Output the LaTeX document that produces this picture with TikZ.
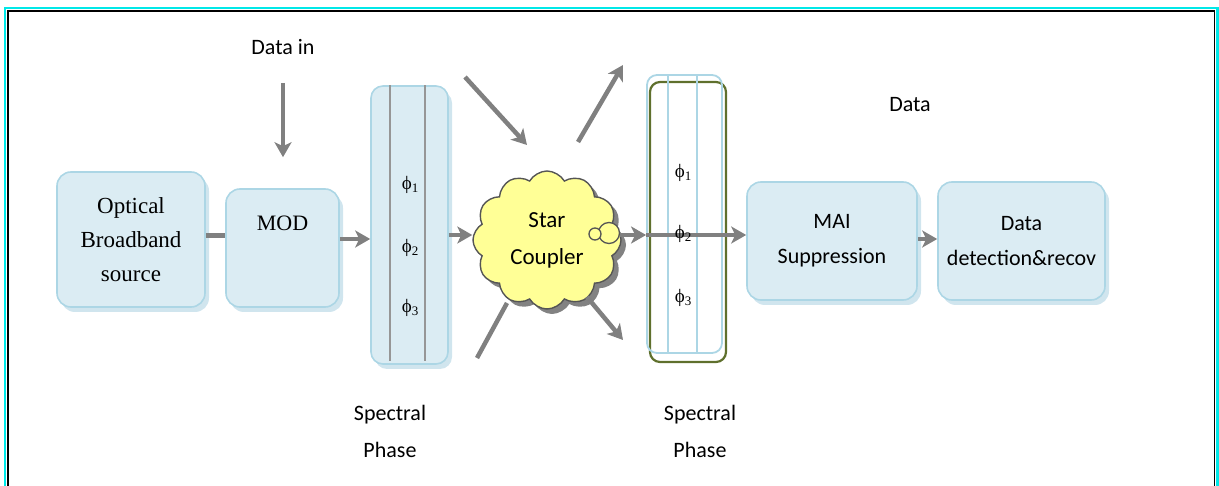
\documentclass[tikz,border=0pt]{standalone}
\usepackage{fontspec}
\setmainfont{Carlito}
\newfontfamily\serifface{Liberation Serif}
\usetikzlibrary{arrows.meta,shapes.symbols,shadows}

\definecolor{boxfill}{RGB}{219,236,243}
\definecolor{boxedge}{RGB}{172,214,229}
\definecolor{boxshade}{RGB}{208,229,238}
\definecolor{flowgray}{RGB}{128,128,128}
\definecolor{railgray}{RGB}{150,150,150}
\definecolor{cloudfill}{RGB}{255,255,150}
\definecolor{cloudedge}{RGB}{85,85,85}
\definecolor{cloudshade}{RGB}{130,130,130}
\definecolor{filtergreen}{RGB}{95,112,45}
\definecolor{framecyan}{RGB}{0,232,232}

\newcommand{\phaseterm}[1]{{\serifface ϕ}\raisebox{-2.5pt}{\serifface\fontsize{13}{13}\selectfont #1}}

\begin{document}
\begin{tikzpicture}[x=1pt,y=-1pt,
  blockbox/.style={draw=boxedge, line width=1.6pt, fill=boxfill,
    rounded corners=14pt, inner sep=0pt,
    drop shadow={shadow xshift=4pt, shadow yshift=-5pt, fill=boxshade, opacity=1}},
  sanslabel/.style={font=\fontsize{22}{35}\selectfont, align=center, inner sep=0pt},
  seriflabel/.style={font=\serifface\fontsize{23}{34}\selectfont, align=center},
  phaselabel/.style={font=\fontsize{19}{19}\selectfont, inner sep=0pt},
  flow/.style={draw=flowgray, line width=4.5pt,
    -{Stealth[length=15pt,width=17pt,inset=4pt]}},
  plainflow/.style={draw=flowgray, line width=4.5pt},
  rail/.style={draw=railgray, line width=2.2pt},
  thinrail/.style={draw=boxedge, line width=1.6pt},
  bubble/.style={circle, draw=cloudedge, line width=1.3pt, fill=cloudfill, inner sep=0pt}
]
\useasboundingbox (0,0) rectangle (1219,486);

% double frame
\draw[framecyan, line width=2.5pt] (5,492) -- (5,8) -- (1217.5,8) -- (1217.5,492);
\draw[black, line width=1.8pt] (8,492) -- (8,11) -- (1214.5,11) -- (1214.5,492);

% transmitter blocks
\node[blockbox, seriflabel, minimum width=148pt, minimum height=135pt]
  (src) at (131,239.5) {Optical\\Broadband\\source};
\node[blockbox, font=\serifface\fontsize{22}{22}\selectfont,
  minimum width=113pt, minimum height=118pt, text height=16pt, text depth=50pt]
  (mod) at (282.5,248) {MOD};
\node[sanslabel] (datain) at (283,47) {Data in};

% encoding phase mask
\node[blockbox, rounded corners=12pt, minimum width=77pt, minimum height=278pt]
  (ph1) at (409.5,225) {};
\draw[rail] ([xshift=-19.5pt]ph1.north) -- ([xshift=-19.5pt,yshift=4pt]ph1.south);
\draw[rail] ([xshift=15.5pt]ph1.north) -- ([xshift=15.5pt,yshift=4pt]ph1.south);
\node[phaselabel] (pa1) at (410,185) {\phaseterm{1}};
\node[phaselabel] (pa2) at (410,248) {\phaseterm{2}};
\node[phaselabel] (pa3) at (410,308) {\phaseterm{3}};
\node[sanslabel, font=\fontsize{22}{37}\selectfont] (sp1) at (390,431) {Spectral\\Phase};

% star coupler
\node[cloud, cloud puffs=12, cloud puff arc=120, draw=cloudedge, line width=1.4pt,
  fill=cloudfill, minimum width=148pt, minimum height=138pt, inner sep=0pt,
  align=center, font=\fontsize{23}{37}\selectfont,
  drop shadow={shadow xshift=5pt, shadow yshift=-5pt, fill=cloudshade, opacity=1}]
  (cloud) at (547,240) {Star\\Coupler};
\node[bubble, minimum size=21pt] (bubB) at (609,233) {};
\node[bubble, minimum size=12pt] (bubA) at (595,234) {};

% decoding phase mask
\node[draw=filtergreen, line width=2.2pt, rounded corners=10pt,
  minimum width=76pt, minimum height=280pt, inner sep=0pt] (ph2g) at (688,222) {};
\node[draw=boxedge, line width=1.8pt, rounded corners=10pt,
  minimum width=75pt, minimum height=278pt, inner sep=0pt] (ph2) at (684.5,214) {};
\draw[thinrail] ([xshift=-16.5pt]ph2.north) -- ([xshift=-16.5pt]ph2.south);
\draw[thinrail] ([xshift=12.5pt]ph2.north) -- ([xshift=12.5pt]ph2.south);
\node[sanslabel, font=\fontsize{22}{37}\selectfont] (sp2) at (700,431) {Spectral\\Phase};

% receiver blocks
\node[blockbox, sanslabel, minimum width=170pt, minimum height=118pt]
  (mai) at (832,241) {MAI\\Suppression};
\node[blockbox, sanslabel, minimum width=167pt, minimum height=118pt]
  (det) at (1021.5,241) {Data\\detection\&recov};
\node[sanslabel] (dataout) at (910,105) {Data};

% signal path
\draw[flow, shorten <=28pt, shorten >=31pt] (datain.south) -- (datain.south |- mod.north);
\draw[plainflow, line width=5pt] (src.east |- 0,236) -- (mod.west |- 0,236);
\draw[flow] (mod.east |- 0,239) -- (ph1.west |- 0,239);
\draw[flow] (ph1.east |- 0,235) -- (cloud.west |- 0,235);
\draw[flow] (bubB.east |- 0,235) -- (ph2.west |- 0,235);
\draw[flow] (ph2.west |- 0,235) -- (mai.west |- 0,235);
\draw[flow] (mai.east |- 0,239) -- (det.west |- 0,239);

% other coupler ports
\coordinate (inTop) at (465,77);
\coordinate (inTopEnd) at (527,145);
\coordinate (inBot) at (477,358);
\coordinate (inBotEnd) at (507,303);
\coordinate (outTop) at (578,142);
\coordinate (outTopEnd) at (623,65);
\coordinate (outBot) at (587,297);
\coordinate (outBotEnd) at (623,340);
\draw[flow] (inTop) -- (inTopEnd);
\draw[plainflow] (inBot) -- (inBotEnd);
\draw[flow] (outTop) -- (outTopEnd);
\draw[flow] (outBot) -- (outBotEnd);

% decoder phase labels on top of the through path
\node[phaselabel] (pb1) at (683,173) {\phaseterm{1}};
\node[phaselabel] (pb2) at (683,234) {\phaseterm{2}};
\node[phaselabel] (pb3) at (683,298) {\phaseterm{3}};
\end{tikzpicture}
\end{document}
